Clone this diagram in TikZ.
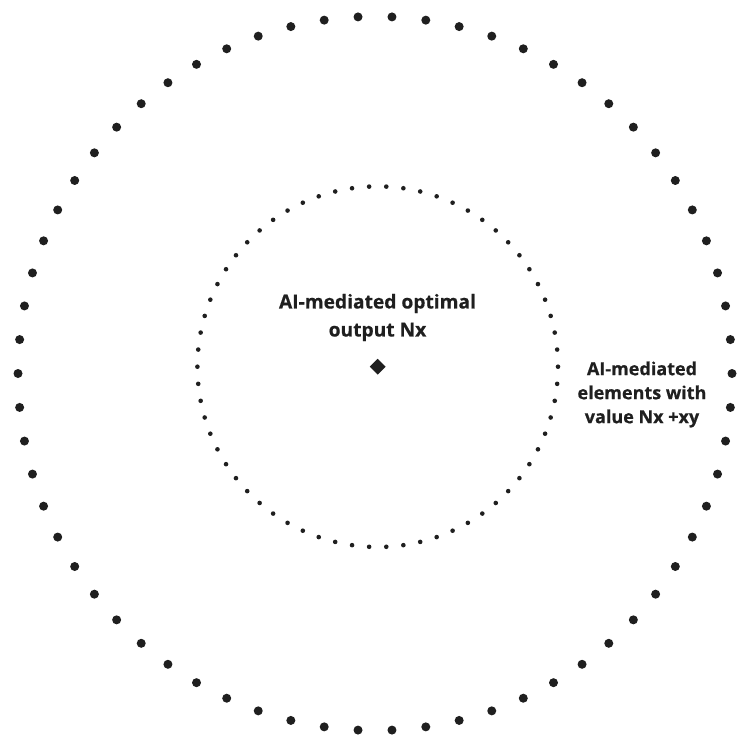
\documentclass[tikz,border=0pt]{standalone}
\usepackage{fontspec}
\setmainfont{Open Sans}[BoldFeatures={FakeBold=0.6}]
\usetikzlibrary{positioning,shapes.geometric}

\begin{document}
\begin{tikzpicture}[
x=1pt,y=-1pt,
bigdot/.style={draw=none,shape=circle,minimum size=9pt,inner sep=0,fill=black!88
  },
smalldot/.style={draw=none,shape=circle,minimum size=4.6pt,inner sep=0,fill=black!88
  },
centre/.style={draw=none,shape=diamond,minimum width=16pt,minimum height=16pt,inner sep=0,fill=black!88
  },
caption/.style={
  font=\bfseries\fontsize{19.2}{28}\selectfont,
  align=center,
  text=black!88,
  inner sep=0
  },
sidecaption/.style={caption,
  font=\bfseries\fontsize{18}{24}\selectfont
  }]
\useasboundingbox (0,0) rectangle (737,738);
\coordinate (outer) at (375,373.5);
\coordinate (inner) at (377.7,366.7);

\foreach \k [evaluate=\k as \ang using \k*5.454545] in {0,...,65}
	\node[bigdot] (out-\k) at ([shift={(\ang:357)}]outer) {};

\foreach \k [evaluate=\k as \ang using \k*5.454545] in {0,...,65}
	\node[smalldot] (in-\k) at ([shift={(\ang:180.3)}]inner) {};

\node[centre] (opt) at (inner) {};
\node[caption] (optlabel) at (377.5,317.5) {AI-mediated optimal\\output Nx};
\node[sidecaption] (elemlabel) at (642,394.5) {AI-mediated\\elements with\\value Nx +xy};

\end{tikzpicture}
\end{document}
